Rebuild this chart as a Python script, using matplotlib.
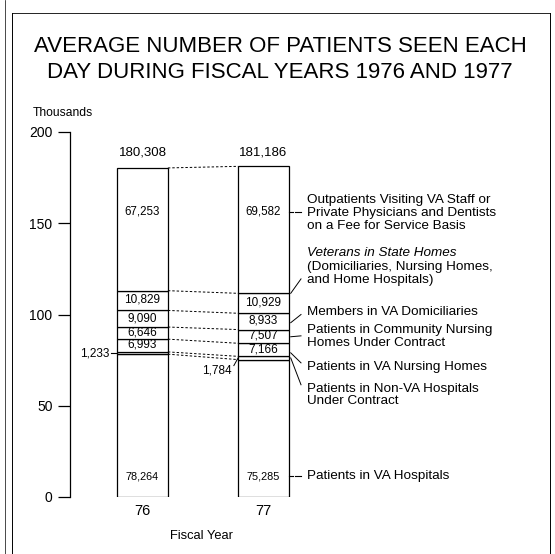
import numpy as np
import matplotlib
matplotlib.use("Agg")
from matplotlib import pyplot as plt
from matplotlib.lines import Line2D

plt.rcParams['font.family'] = ['Liberation Sans', 'DejaVu Sans']

# data (average daily patients), bottom segment first
years = ['76', '77']
segments = ['Patients in VA Hospitals',
            'Patients in Non-VA Hospitals\nUnder Contract',
            'Patients in VA Nursing Homes',
            'Patients in Community Nursing\nHomes Under Contract',
            'Members in VA Domiciliaries',
            'Veterans in State Homes\n(Domiciliaries, Nursing Homes,\nand Home Hospitals)',
            'Outpatients Visiting VA Staff or\nPrivate Physicians and Dentists\non a Fee for Service Basis']
fy76 = [78264, 1233, 6993, 6646, 9090, 10829, 67253]
fy77 = [75285, 1784, 7166, 7507, 8933, 10929, 69582]
totals = [180308, 181186]

fig = plt.figure(figsize=(5.55, 5.54), dpi=100)
ax = fig.add_axes([70 / 555, 57 / 554, 485 / 555, 365 / 554])
ax.set_xlim(-0.599, 3.409)
ax.set_ylim(0, 200)

barw = 0.42
x = np.arange(len(years))
v76 = np.array(fy76) / 1000.0
v77 = np.array(fy77) / 1000.0
b76 = np.concatenate([[0], np.cumsum(v76)[:-1]])
b77 = np.concatenate([[0], np.cumsum(v77)[:-1]])

ax.bar(x[0], v76, bottom=b76, width=barw, color='white', edgecolor='black', linewidth=0.9)
ax.bar(x[1], v77, bottom=b77, width=barw, color='white', edgecolor='black', linewidth=0.9)

# dotted connectors between bars
tops76 = np.concatenate([[0], np.cumsum(v76)])
tops77 = np.concatenate([[0], np.cumsum(v77)])
for i in range(len(tops76)):
    ax.plot([x[0] + barw / 2, x[1] - barw / 2], [tops76[i], tops77[i]],
            color='black', lw=0.7, ls=(0, (2.5, 2)))

# value labels inside segments
def seg_labels(xc, vals, bots, raw):
    for i, (v, b, r) in enumerate(zip(vals, bots, raw)):
        s = f'{r:,}'
        if i == 0:
            ax.text(xc, 11.5, s, ha='center', va='center', fontsize=7.8)
        elif i == 1:
            continue
        elif i == 6:
            ax.text(xc, 156.5, s, ha='center', va='center', fontsize=8.3)
        else:
            ax.text(xc, b + v / 2 + 0.4, s, ha='center', va='center', fontsize=8.5)

seg_labels(x[0], v76, b76, fy76)
seg_labels(x[1], v77, b77, fy77)

# small segment callouts
ax.text(x[0] - barw / 2 - 0.06, b76[1] + v76[1] / 2, f'{fy76[1]:,}', ha='right', va='center', fontsize=8.5)
ax.plot([x[0] - barw / 2 - 0.05, x[0] - barw / 2], [b76[1] + v76[1] / 2] * 2, color='black', lw=0.8)
ax.text(x[1] - barw / 2 - 0.05, 69.5, f'{fy77[1]:,}', ha='right', va='center', fontsize=8.5)
ax.plot([x[1] - barw / 2 - 0.035, x[1] - barw / 2], [72, b77[1] + v77[1] / 2], color='black', lw=0.7)

# totals
ax.text(x[0], 188.5, f'{totals[0]:,}', ha='center', va='center', fontsize=9.5, clip_on=False)
ax.text(x[1], 188.5, f'{totals[1]:,}', ha='center', va='center', fontsize=9.5, clip_on=False)

# right-side category labels with leaders
edge = x[1] + barw / 2
tx = 1.36
fs = 9.7
lsp = 1.1
label_y = [11.5, 55.9, 71.5, 87.7, 101.4, 126.3, 155.8]
leader_from = [11.5, 76.2, 79.0, 87.8, 95.5, 111.6, 156.0]
leader_to = [11.5, 61.5, 73.5, 88.3, 100.0, 119.5, 156.0]
for i, name in enumerate(segments):
    if i == 5:
        first, rest = name.split('\n', 1)
        ax.text(tx, label_y[i] + 7.6, first, ha='left', va='center', fontsize=fs,
                style='italic', clip_on=False)
        ax.text(tx, label_y[i] - 3.6, rest, ha='left', va='center', fontsize=fs,
                linespacing=lsp, clip_on=False)
    else:
        ax.text(tx, label_y[i], name, ha='left', va='center', fontsize=fs,
                linespacing=lsp, clip_on=False)
    x0 = edge + 0.015
    x1 = tx - 0.05
    if i in (0, 6):
        ax.plot([edge, edge + 0.03], [leader_from[i]] * 2, color='black', lw=0.8)
        ax.plot([edge + 0.05, x1], [leader_to[i]] * 2, color='black', lw=0.8)
    else:
        ax.plot([x0, x1], [leader_from[i], leader_to[i]], color='black', lw=0.7)

# axes styling
for s in ['top', 'right', 'bottom']:
    ax.spines[s].set_visible(False)
ax.spines['left'].set_linewidth(0.9)
ax.set_yticks([0, 50, 100, 150, 200])
ax.tick_params(axis='y', direction='out', length=8.6, width=0.9, pad=4, labelsize=10)
ax.set_xticks(x)
ax.set_xticklabels(years, fontsize=10.5)
ax.tick_params(axis='x', length=0, pad=5)
ax.text(0.49, -21.5, 'Fiscal Year', ha='center', va='center', fontsize=9.3, clip_on=False)

fig.text(33 / 555, 1 - 113 / 554, 'Thousands', ha='left', va='center', fontsize=8.7)
fig.text(280 / 555, 1 - 47 / 554, 'AVERAGE NUMBER OF PATIENTS SEEN EACH', ha='center', va='center', fontsize=16.0)
fig.text(280 / 555, 1 - 73 / 554, 'DAY DURING FISCAL YEARS 1976 AND 1977', ha='center', va='center', fontsize=16.0)

# page frame
def fl(xs, ys, lw=0.8):
    fig.add_artist(Line2D([p / 555 for p in xs], [1 - p / 554 for p in ys], color='black', lw=lw))

fl([12, 550], [13, 13], 0.6)
fl([12, 12], [13, 554], 0.7)
fl([5, 5], [0, 554], 0.5)
fl([550, 550], [13, 554], 0.7)

fig.savefig('out.png', dpi=100)
